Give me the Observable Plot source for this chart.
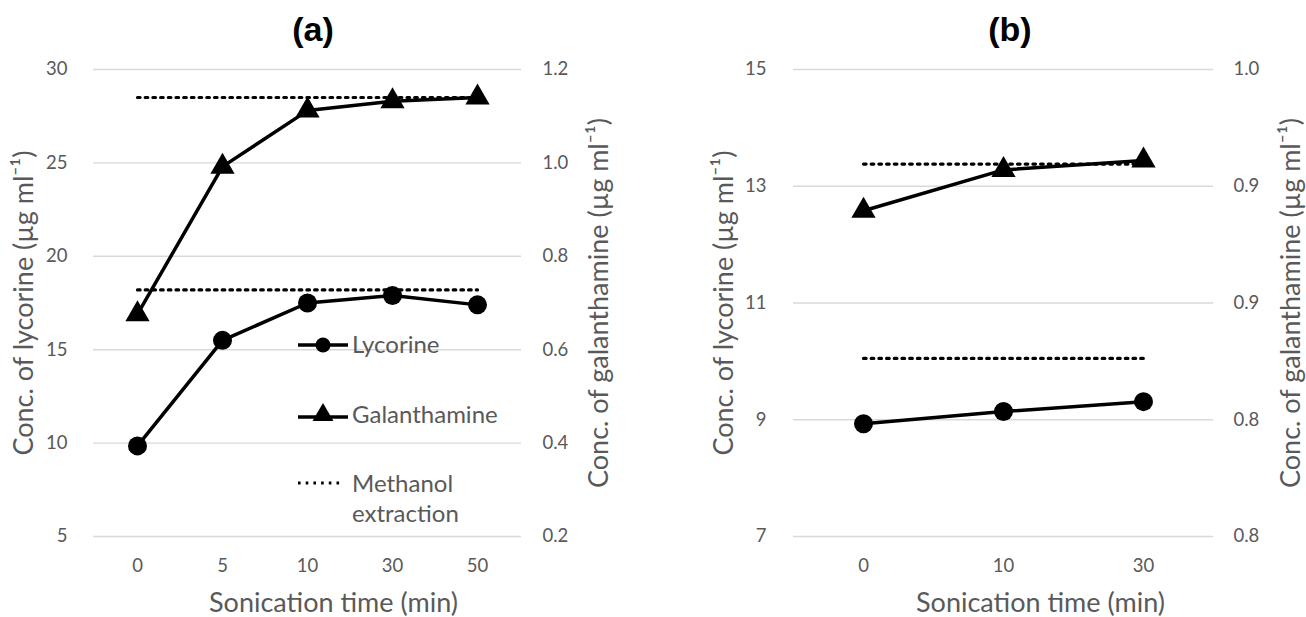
<!DOCTYPE html>
<html><head><meta charset="utf-8">
<script src="https://cdn.jsdelivr.net/npm/d3@7"></script>
<script src="https://cdn.jsdelivr.net/npm/@observablehq/plot@0.6"></script>
<style>
html,body{margin:0;padding:0;background:#fff;}
#wrap{position:relative;width:1306px;height:617px;overflow:hidden;font-family:Lato,sans-serif;background:#fff;}
.panel{position:absolute;top:0;}
.panel svg{display:block;}
#overlay{position:absolute;left:0;top:0;pointer-events:none;}
</style></head><body><div id="wrap"></div>
<script>
// ---- Panel (a) ----
const timesA = ["0", "5", "10", "30", "50"];
const lycorineA = [9.85, 15.5, 17.5, 17.9, 17.4];          // µg/ml (left axis)
const galanthamineA = [0.676, 0.992, 1.112, 1.132, 1.14];  // µg/ml (right axis)
const methanolLycorineA = 18.2;
const methanolGalanthamineA = 1.14;
const leftTicksA = [5, 10, 15, 20, 25, 30];
const rightTicksA = [0.2, 0.4, 0.6, 0.8, 1.0, 1.2];
const rightTickLabelsA = ["0.2", "0.4", "0.6", "0.8", "1.0", "1.2"];

// ---- Panel (b) ----
const timesB = ["0", "10", "30"];
const lycorineB = [8.93, 9.14, 9.31];
const galanthamineB = [0.9395, 0.957, 0.961];
const methanolLycorineB = 10.05;
const methanolGalanthamineB = 0.9595;
const leftTicksB = [7, 9, 11, 13, 15];
const rightTicksB = [0.80, 0.85, 0.90, 0.95, 1.00];
const rightTickLabelsB = ["0.8", "0.8", "0.9", "0.9", "1.0"];

// ---- Texts ----
const panelTitles = ["(a)", "(b)"];
const xTitle = "Sonication time (min)";
const leftTitle = "Conc. of lycorine (µg ml⁻¹)";
const rightTitle = "Conc. of galanthamine (µg ml⁻¹)";
const legendLabels = ["Lycorine", "Galanthamine", "Methanol", "extraction"];

const GRAY = "#595959";
const DOTS = "2.6,5.1";

function makePanel({times, lyc, gal, mLyc, mGal, leftTicks, rightTicks, rightLabels,
                    marginLeft, marginRight, leftPad, rightPad, xTitleDx}) {
  const L = d3.extent(leftTicks), R = d3.extent(rightTicks);
  const toLeft = d3.scaleLinear().domain(R).range(L);
  const rows = times.map((t, i) => ({t, lyc: lyc[i], gal: toLeft(gal[i])}));
  const ends = [times[0], times[times.length - 1]];
  const dotLyc = ends.map(t => ({t, v: mLyc}));
  const dotGal = ends.map(t => ({t, v: toLeft(mGal)}));
  const rightPos = rightTicks.map(r => toLeft(r));
  const labelMap = new Map(rightPos.map((p, i) => [p, rightLabels[i]]));
  return Plot.plot({
    width: 653, height: 617,
    marginTop: 69, marginBottom: 81, marginLeft, marginRight,
    style: {fontFamily: "Lato, sans-serif", color: GRAY, background: "transparent", overflow: "visible"},
    x: {type: "point", domain: times, padding: 0.5},
    y: {domain: L},
    marks: [
      Plot.gridY(leftTicks, {stroke: "#d9d9d9", strokeOpacity: 1, strokeWidth: 1.4}),
      Plot.axisX({tickSize: 0, tickPadding: 22, fontSize: 18.5, label: null}),
      Plot.axisY(leftTicks, {anchor: "left", tickSize: 0, tickPadding: leftPad, fontSize: 18.5, label: null,
                             tickFormat: d => String(d)}),
      Plot.axisY(rightPos, {anchor: "right", tickSize: 0, tickPadding: rightPad, fontSize: 18.5, label: null,
                            tickFormat: d => labelMap.get(d)}),
      Plot.axisY([], {anchor: "left", tickSize: 0, label: leftTitle, labelAnchor: "center", labelArrow: "none",
                      labelOffset: 80, fontSize: 27}),
      Plot.axisY([], {anchor: "right", tickSize: 0, label: rightTitle, labelAnchor: "center", labelArrow: "none",
                      labelOffset: 86, fontSize: 27}),
      Plot.text([xTitle], {frameAnchor: "bottom", dy: 67, dx: xTitleDx, fontSize: 27, fill: GRAY, lineAnchor: "middle"}),
      Plot.line(dotLyc, {x: "t", y: "v", stroke: "black", strokeWidth: 3.2, strokeDasharray: DOTS}),
      Plot.line(dotGal, {x: "t", y: "v", stroke: "black", strokeWidth: 3.2, strokeDasharray: DOTS}),
      Plot.line(rows, {x: "t", y: "lyc", stroke: "black", strokeWidth: 3.5}),
      Plot.line(rows, {x: "t", y: "gal", stroke: "black", strokeWidth: 3.5}),
      Plot.dot(rows, {x: "t", y: "lyc", r: 9.5, fill: "black", symbol: "circle"}),
      Plot.dot(rows, {x: "t", y: "gal", r: 9, fill: "black", symbol: "triangle"})
    ]
  });
}

const wrap = document.getElementById("wrap");
const pa = document.createElement("div"); pa.className = "panel"; pa.style.left = "0px";
pa.appendChild(makePanel({times: timesA, lyc: lycorineA, gal: galanthamineA, mLyc: methanolLycorineA,
  mGal: methanolGalanthamineA, leftTicks: leftTicksA, rightTicks: rightTicksA, rightLabels: rightTickLabelsA,
  marginLeft: 93, marginRight: 132, leftPad: 26, rightPad: 21, xTitleDx: 26}));
wrap.appendChild(pa);
const pb = document.createElement("div"); pb.className = "panel"; pb.style.left = "653px";
pb.appendChild(makePanel({times: timesB, lyc: lycorineB, gal: galanthamineB, mLyc: methanolLycorineB,
  mGal: methanolGalanthamineB, leftTicks: leftTicksB, rightTicks: rightTicksB, rightLabels: rightTickLabelsB,
  marginLeft: 140, marginRight: 93, leftPad: 27, rightPad: 20, xTitleDx: 37}));
wrap.appendChild(pb);

// ---- Overlay: panel titles and legend ----
const ov = d3.select("#wrap").append("svg").attr("id", "overlay").attr("width", 1306).attr("height", 617);
const titleX = [313, 1010];
ov.selectAll("text.ptitle").data(panelTitles).join("text").attr("class", "ptitle")
  .attr("x", (d, i) => titleX[i]).attr("y", 41).attr("text-anchor", "middle")
  .attr("font-family", "Liberation Sans, Arial, sans-serif").attr("font-weight", "bold")
  .attr("font-size", 34).attr("fill", "black").text(d => d);

const lg = ov.append("g").attr("transform", "translate(298,0)");
// Lycorine
lg.append("line").attr("x1", 0).attr("x2", 50).attr("y1", 345).attr("y2", 345).attr("stroke", "black").attr("stroke-width", 3.5);
lg.append("circle").attr("cx", 25).attr("cy", 345).attr("r", 7.5).attr("fill", "black");
// Galanthamine
lg.append("line").attr("x1", 0).attr("x2", 50).attr("y1", 417).attr("y2", 417).attr("stroke", "black").attr("stroke-width", 3.5);
lg.append("path").attr("d", d3.symbol(d3.symbolTriangle, 190)()).attr("transform", "translate(25,415)").attr("fill", "black");
// Methanol
lg.append("line").attr("x1", 0).attr("x2", 44).attr("y1", 483).attr("y2", 483).attr("stroke", "black")
  .attr("stroke-width", 3.2).attr("stroke-dasharray", DOTS);
const lgText = [[legendLabels[0], 353], [legendLabels[1], 422.5], [legendLabels[2], 491.5], [legendLabels[3], 522]];
lg.selectAll("text").data(lgText).join("text").attr("x", 54).attr("y", d => d[1])
  .attr("font-family", "Lato, sans-serif").attr("font-size", 24).attr("fill", GRAY).text(d => d[0]);
</script></body></html>
